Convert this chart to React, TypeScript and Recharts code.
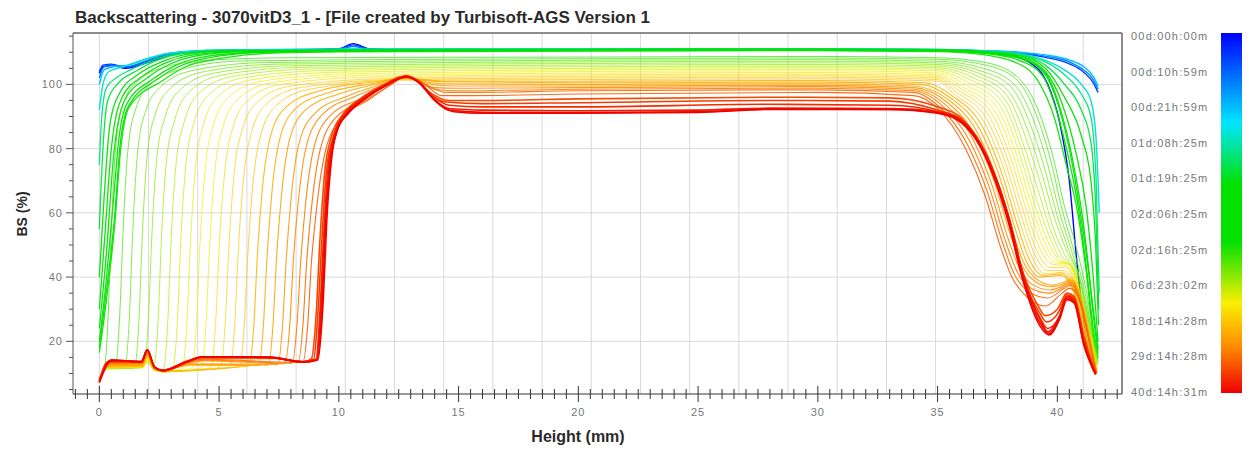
import React from 'react';
import { LineChart, Line, XAxis, YAxis, ReferenceLine } from 'recharts';

type P = [number, number];
type Curve = { t: number; pts: P[] };

const TITLE = 'Backscattering - 3070vitD3_1 - [File created by Turbisoft-AGS Version 1';
const X_LABEL = 'Height (mm)';
const Y_LABEL = 'BS (%)';

const xMajorTicks = [0, 5, 10, 15, 20, 25, 30, 35, 40];
const yMajorTicks = [20, 40, 60, 80, 100];
const yGridValues = [20, 40, 60, 80, 100];
const xGridValues = [0, 2.054, 4.108, 6.162, 8.216, 10.27, 12.324, 14.378, 16.432, 18.486, 20.54, 22.594, 24.648, 26.702, 28.756, 30.81, 32.864, 34.918, 36.972, 39.026, 41.08];
const legendLabels = ['00d:00h:00m', '00d:10h:59m', '00d:21h:59m', '01d:08h:25m', '01d:19h:25m', '02d:06h:25m', '02d:16h:25m', '06d:23h:02m', '18d:14h:28m', '29d:14h:28m', '40d:14h:31m'];

const blueCurves: Curve[] = [
  { t: 0, pts: [[0,103.5],[0.15,105.5],[0.5,106],[1.1,105],[2,106.8],[3.4,109.8],[5,110.4],[8,110.6],[10,111],[10.6,112.7],[11.3,111],[13,110.5],[20,110.7],[25,110.9],[30,110.8],[35,110.6],[37.5,109.8],[38.8,107],[39.6,100],[40.1,88],[40.5,70],[40.8,46],[41.1,26],[41.45,12]] },
  { t: 0.07, pts: [[0,104],[0.15,106],[0.5,106.3],[1.1,105.3],[2,107.2],[3.2,109.9],[5,110.5],[8,110.7],[10,111.1],[10.6,112.3],[11.3,111],[13,110.6],[20,110.8],[25,111],[30,110.9],[35,110.7],[37,110.3],[38.5,109.6],[39.5,108.4],[40.5,106.4],[41.1,103.8],[41.5,100.5],[41.7,97.5]] },
  { t: 0.14, pts: [[0,102],[0.2,105.5],[0.6,105.8],[1.2,105.6],[2,107.5],[3,109.6],[5,110.6],[10,111],[10.6,111.8],[11.3,110.9],[20,110.9],[30,111],[35,110.8],[37,110.4],[38.5,109.8],[39.5,108.8],[40.5,107],[41.1,104.5],[41.5,101.5],[41.7,98.5]] },
  { t: 0.21, pts: [[0,100],[0.2,104.5],[0.6,105.5],[1.2,106],[2,108],[3,109.8],[5,110.7],[10,111],[20,111],[30,111.1],[35,110.9],[37,110.5],[38.5,110],[39.5,109.2],[40.5,107.6],[41.1,105.5],[41.5,102.5],[41.7,99.5]] },
  { t: 0.28, pts: [[0,92],[0.15,100],[0.4,104],[1,105.5],[2,108],[3,109.8],[5,110.6],[10,110.9],[20,111],[30,111.1],[35,110.9],[37,110.4],[38.5,109.5],[39.5,107.5],[40.3,104.5],[41,100],[41.4,95],[41.6,85],[41.75,60]] },
];

const greenCurves: Curve[] = [
  { t: 0.34, pts: [[0,75],[0.1,90],[0.3,99],[0.7,102],[1.3,104.5],[2.2,107.5],[3.2,109.5],[5,110.5],[10,110.8],[20,111],[30,111],[35,110.8],[37,110.3],[38.5,109.3],[39.5,107],[40.3,103],[41,97],[41.4,90],[41.62,70],[41.75,35]] },
  { t: 0.38, pts: [[0,55],[0.15,80],[0.35,95],[0.8,100.5],[1.5,104],[2.4,107.5],[3.4,109.5],[5,110.4],[10,110.7],[20,110.9],[30,111],[35,110.8],[37,110.2],[38.5,109],[39.5,106],[40.3,100],[41,92],[41.4,82],[41.6,62],[41.73,30]] },
  { t: 0.42, pts: [[0,40],[0.2,65],[0.45,88],[0.9,98],[1.6,103],[2.6,107],[3.6,109.3],[5.5,110.4],[10,110.6],[20,110.8],[30,110.9],[35,110.7],[37,110.1],[38.5,108.7],[39.5,105],[40.3,96],[41,84],[41.4,70],[41.6,50],[41.72,25]] },
  { t: 0.46, pts: [[0,30],[0.25,55],[0.5,80],[0.95,96],[1.8,102.5],[2.8,106.8],[3.8,109],[6,110.3],[10,110.6],[20,110.8],[30,110.9],[35,110.6],[37,110],[38.5,108.4],[39.5,104],[40.2,94],[40.8,78],[41.2,62],[41.5,40],[41.7,20]] },
  { t: 0.5, pts: [[0,24],[0.3,48],[0.6,78],[1.05,95],[2,102],[3,106.5],[4,108.8],[6,110.2],[10,110.5],[20,110.7],[30,110.8],[35,110.6],[37,110],[38.5,108],[39.5,103.5],[40.1,93],[40.6,78],[41.1,56],[41.45,33],[41.7,18]] },
  { t: 0.53, pts: [[0,20],[0.3,40],[0.6,65],[0.8,82],[1.15,94],[2.2,101.5],[3.2,106],[4.3,108.5],[6.5,110],[10,110.4],[20,110.6],[30,110.7],[35,110.5],[37,109.8],[38.5,108],[39.5,103],[40.1,92],[40.5,80],[40.9,63],[41.3,42],[41.55,25],[41.7,17]] },
  { t: 0.56, pts: [[0,18],[0.3,36],[0.65,60],[0.85,80],[1.2,93],[2.4,101.5],[3.4,105.8],[4.6,108.3],[7,110],[10,110.3],[20,110.5],[30,110.6],[35,110.4],[37,109.6],[38.4,107.5],[39.4,102.5],[40,91],[40.5,76],[40.8,65],[41.2,44],[41.5,24],[41.7,16]] },
  { t: 0.59, pts: [[0,16.5],[0.3,33],[0.65,57],[0.88,79],[1.25,93],[2.6,101],[3.6,105.5],[5,108],[7.5,109.8],[10,110.1],[20,110.4],[30,110.5],[35,110.2],[36.5,109.6],[38.2,107],[39.2,101],[39.9,89],[40.4,74],[40.8,62],[41.2,42],[41.5,22],[41.7,15]] },
];

const yellowCurves: Curve[] = [
  { t: 0.61, pts: [[0,9],[0.2,11],[0.35,25],[0.5,55],[0.7,82],[1.0,94],[1.6,101],[2.8,105.5],[4.5,107.5],[8,108.3],[20,108.5],[30,108.7],[35,108.3],[37,106.8],[38.3,102.5],[39.2,92],[39.8,78],[40.3,62],[40.8,49],[41.2,36],[41.5,23],[41.7,15]] },
  { t: 0.625, pts: [[0,8.5],[0.35,11.5],[0.65,11.5],[0.85,28],[1.0,56],[1.2,80],[1.55,93],[2.2,100.5],[3.6,105],[6,107.3],[20,108],[30,108.2],[35,107.8],[37,106],[38.3,101.5],[39.1,91],[39.7,77],[40.2,61],[40.7,48],[41.1,37],[41.45,23],[41.7,14.5]] },
  { t: 0.64, pts: [[0,8.5],[0.35,11.5],[1.05,11.5],[1.25,27],[1.4,55],[1.6,79],[1.95,92],[2.6,99.5],[4,104.5],[7,106.8],[20,107.5],[30,107.7],[35,107.2],[36.9,105],[38.2,100],[39,89],[39.6,75],[40.1,60],[40.6,48],[41,38],[41.4,24],[41.7,14]] },
  { t: 0.655, pts: [[0,8.5],[0.35,11.5],[1.45,11.6],[1.65,26],[1.8,54],[2.0,78],[2.35,91],[3.0,99],[4.4,104],[7.5,106.3],[20,107],[30,107.2],[35,106.7],[36.8,104.2],[38.1,99],[38.9,87],[39.5,73],[40,59],[40.5,48],[40.95,39],[41.35,25],[41.7,13.5]] },
  { t: 0.67, pts: [[0,8.5],[0.35,11.6],[1.7,11.8],[1.85,12.5],[2.05,27],[2.2,54],[2.4,77],[2.75,90],[3.4,98.5],[4.8,103.5],[8,105.8],[20,106.5],[30,106.7],[35,106.2],[36.7,103.5],[38,97.5],[38.8,85],[39.4,71],[39.9,58],[40.4,48],[40.9,40],[41.3,26],[41.68,13]] },
  { t: 0.685, pts: [[0,8.5],[0.35,11.6],[1.8,11.8],[2.0,13.5],[2.25,11.5],[2.45,26],[2.6,53],[2.8,76],[3.15,89],[3.8,98],[5.2,103],[8.5,105.3],[20,106],[30,106.2],[35,105.7],[36.6,102.8],[37.9,96.5],[38.7,83],[39.3,69],[39.8,56],[40.3,47],[40.8,41],[41.25,27],[41.67,12.8]] },
  { t: 0.7, pts: [[0,8.5],[0.35,11.6],[1.8,11.8],[2.0,13.8],[2.3,11],[2.65,10.8],[2.85,25],[3.0,52],[3.2,75],[3.55,88.5],[4.2,97.5],[5.6,102.5],[9,104.8],[20,105.5],[30,105.7],[35,105.2],[36.5,102],[37.8,95.5],[38.6,81],[39.2,67],[39.7,55],[40.2,46.5],[40.7,42],[41.2,28],[41.66,12.6]] },
  { t: 0.715, pts: [[0,8.5],[0.35,11.6],[1.8,11.8],[2.0,14],[2.3,11],[2.7,10.5],[3.05,11.3],[3.25,25],[3.4,51],[3.6,74],[3.95,88],[4.6,97],[6,102],[9.5,104.3],[20,105],[30,105.2],[35,104.7],[36.4,101.3],[37.7,94.5],[38.5,80],[39.1,65],[39.6,54],[40.1,46],[40.6,43],[41.15,29],[41.65,12.4]] },
  { t: 0.73, pts: [[0,8.5],[0.35,11.7],[1.8,11.9],[2.0,14.2],[2.3,11],[2.7,10.5],[3.45,11.5],[3.65,25],[3.8,50],[4.0,73],[4.35,87.5],[5.0,96.5],[6.4,101.5],[10,103.8],[20,104.5],[30,104.7],[35,104.2],[36.3,100.5],[37.6,93.5],[38.4,79],[39,64],[39.5,53],[40.05,45.5],[40.55,43.5],[41.1,30],[41.64,12.2]] },
  { t: 0.745, pts: [[0,8.5],[0.35,11.7],[1.8,11.9],[2.0,14.4],[2.3,11],[2.7,10.5],[3.85,11.6],[4.05,25],[4.2,50],[4.4,72],[4.75,87],[5.4,96],[6.8,101],[10.5,103.3],[20,104],[30,104.2],[35,103.6],[36.2,99.8],[37.5,92.5],[38.3,78],[38.9,63],[39.4,52],[40,45],[40.5,44],[41.05,31],[41.62,12]] },
  { t: 0.76, pts: [[0,8.5],[0.35,11.8],[1.8,12],[2.0,14.6],[2.3,11],[2.7,10.5],[4.25,11.7],[4.45,25],[4.6,49],[4.8,71],[5.15,86.5],[5.8,95.5],[7.2,100.5],[11,102.8],[20,103.5],[30,103.7],[35,103],[36.1,99],[37.4,91.5],[38.2,77],[38.8,62],[39.3,51],[39.9,44.5],[40.45,44],[41,32],[41.6,11.8]] },
  { t: 0.775, pts: [[0,8.5],[0.35,11.8],[1.8,12],[2.0,14.8],[2.3,11],[2.7,10.5],[4.65,11.8],[4.85,25],[5.0,49],[5.2,70],[5.55,86],[6.2,95],[7.6,100],[11.5,102.3],[20,103],[30,103.2],[35,102.5],[36,98.5],[37.3,90.5],[38.1,76],[38.7,61],[39.2,50],[39.8,44],[40.4,43.5],[40.95,32.5],[41.58,11.6]] },
  { t: 0.79, pts: [[0,8.5],[0.35,11.9],[1.8,12.1],[2.0,15],[2.3,11],[2.7,10.6],[5.05,11.9],[5.25,25],[5.4,48],[5.6,70],[5.95,85.5],[6.6,94.5],[8,99.5],[12,101.8],[20,102.5],[30,102.7],[35,102],[35.9,98],[37.2,89.5],[38,75],[38.6,60],[39.1,49],[39.7,43],[40.35,43],[40.9,33],[41.56,11.4]] },
  { t: 0.8, pts: [[0,8.5],[0.35,12],[1.8,12.2],[2.0,15.2],[2.3,11],[2.7,10.6],[5.45,12],[5.65,25],[5.8,48],[6.0,69],[6.35,85],[7.0,94],[8.4,99],[12.3,101.5],[20,102],[30,102.2],[35,101.5],[35.8,97.5],[37.1,88.5],[37.9,74],[38.5,59],[39,48],[39.6,42],[40.3,42],[40.85,33.5],[41.55,11.2]] },
  { t: 0.81, pts: [[0,8.5],[0.35,12],[1.8,12.3],[2.0,15.4],[2.3,11.2],[2.7,10.7],[5.85,12.1],[6.05,25],[6.2,47],[6.4,68],[6.75,84.5],[7.4,93.5],[8.8,98.5],[12.6,101.3],[20,101.5],[30,101.7],[35,101],[35.7,97],[37,87.5],[37.8,73],[38.4,58],[38.9,47],[39.5,41],[40.25,41.5],[40.8,34],[41.52,11]] },
];

const orangeCurves: Curve[] = [
  { t: 0.82, pts: [[0,8.5],[0.35,12.2],[1.8,12.5],[2.0,15.6],[2.3,11.3],[2.7,10.8],[6.25,12.3],[6.45,25],[6.6,47],[6.8,67],[7.15,84],[7.8,93],[9.2,98],[11.5,100.8],[12.7,101.8],[14.5,101],[20,101],[30,101.2],[34.5,100.5],[35.6,96.5],[36.9,86.5],[37.7,72],[38.3,57],[38.8,46],[39.4,40.5],[40.2,41],[40.75,34.5],[41.5,10.8]] },
  { t: 0.83, pts: [[0,8.5],[0.35,12.3],[1.8,12.6],[2.0,15.8],[2.3,11.4],[2.7,10.9],[3.8,12.6],[6.65,12.5],[6.85,25],[7.0,46],[7.2,66],[7.55,83.5],[8.2,92.5],[9.6,97.5],[11.6,100.5],[12.7,102],[14.3,100.8],[20,100.5],[30,100.7],[34.3,100],[35.5,96],[36.8,85.5],[37.6,71],[38.2,56],[38.7,45],[39.3,40],[40.15,40.5],[40.7,35],[41.48,10.6]] },
  { t: 0.84, pts: [[0,8],[0.35,12.5],[1.8,12.8],[2.0,16],[2.3,11.5],[2.7,11],[3.8,12.8],[7.05,12.6],[7.25,25],[7.4,46],[7.6,65],[7.95,83],[8.6,92],[10,97],[11.8,100.5],[12.7,102.2],[14.2,100.2],[20,100],[30,100.2],[34,99.5],[35.4,95.5],[36.7,84.5],[37.5,70],[38.1,55],[38.6,44.5],[39.2,39],[39.8,37.5],[40.3,38.5],[40.6,39.5],[41,33],[41.45,18],[41.66,10.4]] },
  { t: 0.855, pts: [[0,8],[0.35,12.6],[1.8,13],[2.0,16.2],[2.3,11.6],[2.7,11],[3.8,13],[7.45,12.8],[7.65,25],[7.8,45],[8.0,64],[8.35,82],[9.0,91],[10.4,96.5],[12,100.5],[12.7,102.3],[14,99.8],[15,99.5],[20,99.5],[30,99.7],[34,99],[35.3,95],[36.6,83.5],[37.4,69],[38,54],[38.5,44],[39.1,38.5],[39.75,37],[40.3,38],[40.6,39],[41,32.5],[41.43,18],[41.65,10.3]] },
  { t: 0.87, pts: [[0,8],[0.35,12.8],[1.8,13.1],[2.0,16.4],[2.3,11.6],[2.7,11],[3.8,13.3],[4.4,14],[7.75,13],[7.95,25],[8.1,45],[8.3,63],[8.65,81],[9.3,90.5],[10.6,96],[12,100.2],[12.8,102.3],[14,99],[15,98.8],[20,99],[30,99.3],[34,98.5],[35.2,94.5],[36.5,82.5],[37.3,68],[37.9,53],[38.4,43],[39,37.5],[39.7,36],[40.3,37.5],[40.6,38.5],[41,32],[41.42,18],[41.65,10.2]] },
  { t: 0.885, pts: [[0,8],[0.35,13],[1.8,13.2],[2.0,16.6],[2.3,11.7],[2.7,11],[3.8,13.5],[4.4,14.2],[8.05,13.2],[8.25,25],[8.4,44],[8.6,62],[8.95,80],[9.6,90],[10.9,95.5],[12.1,100],[12.8,102.5],[14,98.5],[15,98],[20,98.5],[30,98.8],[34,98],[35.1,94],[36.4,81.5],[37.2,67],[37.8,52],[38.3,42],[38.9,36.5],[39.65,35],[40.3,37],[40.6,38],[41,31.5],[41.4,18],[41.64,10]] },
  { t: 0.9, pts: [[0,8],[0.35,13.2],[1.8,13.4],[2.0,16.8],[2.3,11.8],[2.7,11],[3.8,13.8],[4.4,14.4],[8.3,13.4],[8.5,25],[8.65,44],[8.85,61],[9.2,79],[9.85,89.5],[11.1,95],[12.2,100],[12.8,102.6],[13.6,100],[14.5,97.5],[15.5,97.5],[20,98],[30,98.3],[34,97.5],[35,93.5],[36.3,80.5],[37.1,66],[37.7,51],[38.2,41],[38.8,35.5],[39.6,33.5],[40.3,36.5],[40.6,37.5],[41,31],[41.4,18],[41.64,10]] },
  { t: 0.915, pts: [[0,8],[0.35,13.4],[1.8,13.5],[2.0,17],[2.3,11.8],[2.7,11],[3.8,14],[4.4,14.6],[7.5,14.6],[8.5,13.6],[8.7,25],[8.85,44],[9.05,60],[9.4,78],[10.05,89],[11.2,95],[12.2,100],[12.8,102.8],[13.5,100.5],[14.3,96.5],[15.3,96.5],[20,97],[30,97.5],[34,96.5],[35,92.5],[36.2,79.5],[37,65],[37.6,50],[38.1,40],[38.7,34],[39.5,31],[40.2,35],[40.5,36.5],[40.8,35],[41.1,28],[41.4,17],[41.63,10]] },
];

const redCurves: Curve[] = [
  { t: 0.93, pts: [[0,7.8],[0.35,13.6],[1.76,13.6],[2.0,17.2],[2.3,12],[2.66,11],[3.64,13.6],[4.33,15],[7.1,14.9],[8.5,13.6],[8.85,14.5],[9.05,28],[9.2,50],[9.4,72],[9.7,84],[10.2,91],[10.9,95.5],[11.8,99.5],[12.7,102.5],[13.2,101.5],[13.8,97.5],[14.6,95],[16,95],[20,95.5],[28,96],[33,95.8],[35,93],[36,89.5],[37.1,77],[37.9,60],[38.5,43],[39.2,31],[39.5,28],[40,30],[40.4,35],[40.7,34],[41.1,22],[41.6,10]] },
  { t: 0.945, pts: [[0,7.6],[0.4,13.8],[1.76,13.7],[2.0,17.3],[2.3,12],[2.66,11],[3.64,13.7],[4.33,15.1],[7.1,15],[8.5,13.6],[8.95,14.5],[9.12,28],[9.28,50],[9.48,73],[9.78,84],[10.25,91],[10.9,95.5],[11.8,99.5],[12.75,102.5],[13.25,101.3],[13.8,97],[14.5,94.5],[16,94],[20,94.3],[28,95],[33,94.8],[35,92],[36,89],[37.1,76],[37.9,59],[38.5,41],[39.25,29],[39.55,26],[40.05,29],[40.4,34.5],[40.7,33.5],[41.1,21],[41.6,10]] },
  { t: 0.96, pts: [[0,7.5],[0.45,14],[1.76,13.8],[2.0,17.4],[2.3,12],[2.66,11],[3.64,13.8],[4.33,15.2],[7.1,15.1],[8.5,13.7],[9.05,14.4],[9.2,28],[9.35,50],[9.55,74],[9.85,85],[10.3,91],[11,95.5],[11.9,99.5],[12.8,102.5],[13.3,101],[13.9,96.5],[14.6,93.5],[16,93],[20,93],[28,93.8],[33,93.5],[35,91.5],[36,88.8],[37.2,75.5],[38,58],[38.6,40],[39.3,27],[39.6,24],[40.1,28],[40.4,34],[40.7,33],[41.1,20.5],[41.6,10]] },
  { t: 0.975, pts: [[0,7.4],[0.5,14.2],[1.76,13.6],[2.0,17.3],[2.3,12],[2.66,11],[3.64,13.6],[4.33,15.2],[7.1,15],[8.5,13.6],[9.07,14.2],[9.25,30],[9.4,55],[9.6,75],[9.85,85],[10.3,91],[11,95.5],[11.9,99.5],[12.8,102.5],[13.3,100.8],[13.9,96],[14.6,92.5],[16,92],[20,91.8],[25,92],[28,92.6],[33,92.5],[35,91.5],[36,88.5],[37.2,75],[38,58],[38.6,40],[39.3,26.5],[39.6,23],[40.1,28],[40.4,34],[40.7,33],[41.1,20],[41.6,10]] },
  { t: 0.99, pts: [[0,7.3],[0.5,14.2],[1.76,13.6],[2.0,17.2],[2.3,12],[2.66,10.8],[3.64,13.5],[4.33,15.1],[7.1,15],[8.5,13.5],[9.1,14.2],[9.3,32],[9.45,57],[9.65,76],[9.9,85],[10.35,91],[11,95],[11.9,99.5],[12.8,102.3],[13.35,100.5],[13.95,95.5],[14.6,92],[16,91.3],[20,91.2],[25,91.5],[28,92.3],[33,92.2],[35,91.2],[36,88.5],[37.2,74.5],[38,57],[38.6,39],[39.3,25.5],[39.65,22.5],[40.1,27.5],[40.4,33.5],[40.7,32.5],[41.1,19.5],[41.6,9.8]] },
  { t: 1, pts: [[0,7.2],[0.5,14],[1.76,13.6],[2.0,17.3],[2.3,12],[2.66,10.8],[3.64,13.6],[4.33,15.2],[7.1,15],[8.5,13.6],[9.12,14.2],[9.35,33],[9.5,58],[9.7,77],[9.95,86],[10.4,91],[11,95],[11.9,99.3],[12.8,102.2],[13.4,100.3],[14,95],[14.8,91.5],[16,91],[20,91],[25,91.3],[28,92.2],[33,92.2],[35,91],[36,88],[37.2,74],[38,56],[38.6,38],[39.3,24.5],[39.65,22],[40.1,27],[40.4,33],[40.7,32],[41.1,19],[41.6,9.6]] },
];

const FONT = '"Liberation Sans", Arial, Helvetica, sans-serif';
const X_MIN = -1.1;
const X_MAX = 42.7;
const Y_MIN = 3.6;
const Y_MAX = 116;

const CMAP: [number, [number, number, number]][] = [
  [0, [0, 0, 255]],
  [0.12, [0, 110, 255]],
  [0.25, [0, 230, 255]],
  [0.42, [0, 225, 0]],
  [0.58, [0, 225, 0]],
  [0.75, [250, 240, 0]],
  [0.87, [255, 140, 0]],
  [1, [240, 0, 0]],
];

function colorAt(t: number): string {
  for (let i = 1; i < CMAP.length; i++) {
    const [t1, c1] = CMAP[i];
    const [t0, c0] = CMAP[i - 1];
    if (t <= t1) {
      const f = t1 === t0 ? 0 : (t - t0) / (t1 - t0);
      const c = c0.map((v, k) => Math.round(v + (c1[k] - v) * f));
      return `rgb(${c[0]},${c[1]},${c[2]})`;
    }
  }
  const c = CMAP[CMAP.length - 1][1];
  return `rgb(${c[0]},${c[1]},${c[2]})`;
}

const gradientCss = `linear-gradient(to bottom, ${CMAP.map(([t, c]) => `rgb(${c[0]},${c[1]},${c[2]}) ${t * 100}%`).join(', ')})`;

const xTicks: number[] = [];
for (let v = -1; v <= 42.5; v += 0.5) xTicks.push(v);
const yTicks: number[] = [];
for (let v = 5; v <= 115; v += 5) yTicks.push(v);

const XTick = (props: any) => {
  const { x, y, payload } = props;
  const v = payload.value as number;
  const major = xMajorTicks.includes(v);
  return (
    <g>
      <line x1={x} x2={x} y1={y - (major ? 8 : 5)} y2={y + (major ? 8 : 5)} stroke="#333" strokeWidth={1} />
      {major && (
        <text x={x} y={y + 22} textAnchor="middle" fontSize={11} fill="#777" fontFamily={FONT} letterSpacing={1}>
          {v}
        </text>
      )}
    </g>
  );
};

const YTick = (props: any) => {
  const { x, y, payload } = props;
  const v = payload.value as number;
  const major = yMajorTicks.includes(v);
  return (
    <g>
      <line x1={x - (major ? 7 : 4)} x2={x} y1={y} y2={y} stroke="#555" strokeWidth={1} />
      {major && (
        <text x={x - 10} y={y + 4} textAnchor="end" fontSize={11} fill="#777" fontFamily={FONT} letterSpacing={1}>
          {v}
        </text>
      )}
    </g>
  );
};

const groups: { curves: Curve[]; width: number; opacity: number }[] = [
  { curves: blueCurves, width: 1.4, opacity: 1 },
  { curves: greenCurves, width: 1.3, opacity: 0.95 },
  { curves: yellowCurves, width: 0.9, opacity: 0.8 },
  { curves: orangeCurves, width: 1.1, opacity: 0.9 },
  { curves: redCurves, width: 1.6, opacity: 1 },
];

export default function App() {
  return (
    <div style={{ position: 'absolute', left: 0, top: 0, width: 1249, height: 452, background: '#fff', fontFamily: FONT, overflow: 'hidden' }}>
      <div style={{ position: 'absolute', left: 75, top: 8, fontSize: 17, fontWeight: 700, color: '#2a2a2a', whiteSpace: 'nowrap', lineHeight: '20px' }}>
        {TITLE}
      </div>
      <div style={{ position: 'absolute', left: 0, top: 0 }}>
        <LineChart width={1249} height={452} margin={{ top: 33, right: 127, bottom: 57, left: 72 }}>
          <XAxis
            type="number"
            dataKey="h"
            domain={[X_MIN, X_MAX]}
            ticks={xTicks}
            interval={0}
            tick={XTick}
            tickLine={false}
            tickSize={0}
            tickMargin={0}
            height={1}
            axisLine={{ stroke: '#333' }}
            allowDataOverflow
          />
          <YAxis
            type="number"
            domain={[Y_MIN, Y_MAX]}
            ticks={yTicks}
            interval={0}
            tick={YTick}
            tickLine={false}
            tickSize={0}
            tickMargin={0}
            width={1}
            axisLine={{ stroke: '#555' }}
            allowDataOverflow
          />
          {xGridValues.map((v) => (
            <ReferenceLine key={'gx' + v} x={v} stroke="#d9d9d9" strokeWidth={1} />
          ))}
          {yGridValues.map((v) => (
            <ReferenceLine key={'gy' + v} y={v} stroke="#d9d9d9" strokeWidth={1} />
          ))}
          <ReferenceLine y={Y_MAX} stroke="#666" strokeWidth={1.5} />
          <ReferenceLine x={X_MAX} stroke="#666" strokeWidth={1.5} />
          {groups.map((g, gi) =>
            g.curves.map((c, ci) => (
              <Line
                key={`c${gi}-${ci}`}
                data={c.pts.map(([h, bs]) => ({ h, bs }))}
                dataKey="bs"
                type="monotone"
                stroke={colorAt(c.t)}
                strokeWidth={g.width}
                strokeOpacity={g.opacity}
                dot={false}
                activeDot={false}
                isAnimationActive={false}
              />
            ))
          )}
        </LineChart>
      </div>
      <div style={{ position: 'absolute', left: 22 - 60, top: 214 - 10, width: 120, height: 20, lineHeight: '20px', textAlign: 'center', transform: 'rotate(-90deg)', fontSize: 14, fontWeight: 700, color: '#2a2a2a' }}>
        {Y_LABEL}
      </div>
      <div style={{ position: 'absolute', left: 578 - 100, top: 427, width: 200, textAlign: 'center', fontSize: 16, fontWeight: 700, color: '#2a2a2a', lineHeight: '20px' }}>
        {X_LABEL}
      </div>
      {legendLabels.map((lab, i) => (
        <div key={lab} style={{ position: 'absolute', left: 1131, top: 36 + i * 35.6 - 8, height: 16, lineHeight: '16px', fontSize: 11, letterSpacing: 1.2, color: '#777', whiteSpace: 'nowrap' }}>
          {lab}
        </div>
      ))}
      <div style={{ position: 'absolute', left: 1221, top: 33, width: 21, height: 360, background: gradientCss }} />
    </div>
  );
}
